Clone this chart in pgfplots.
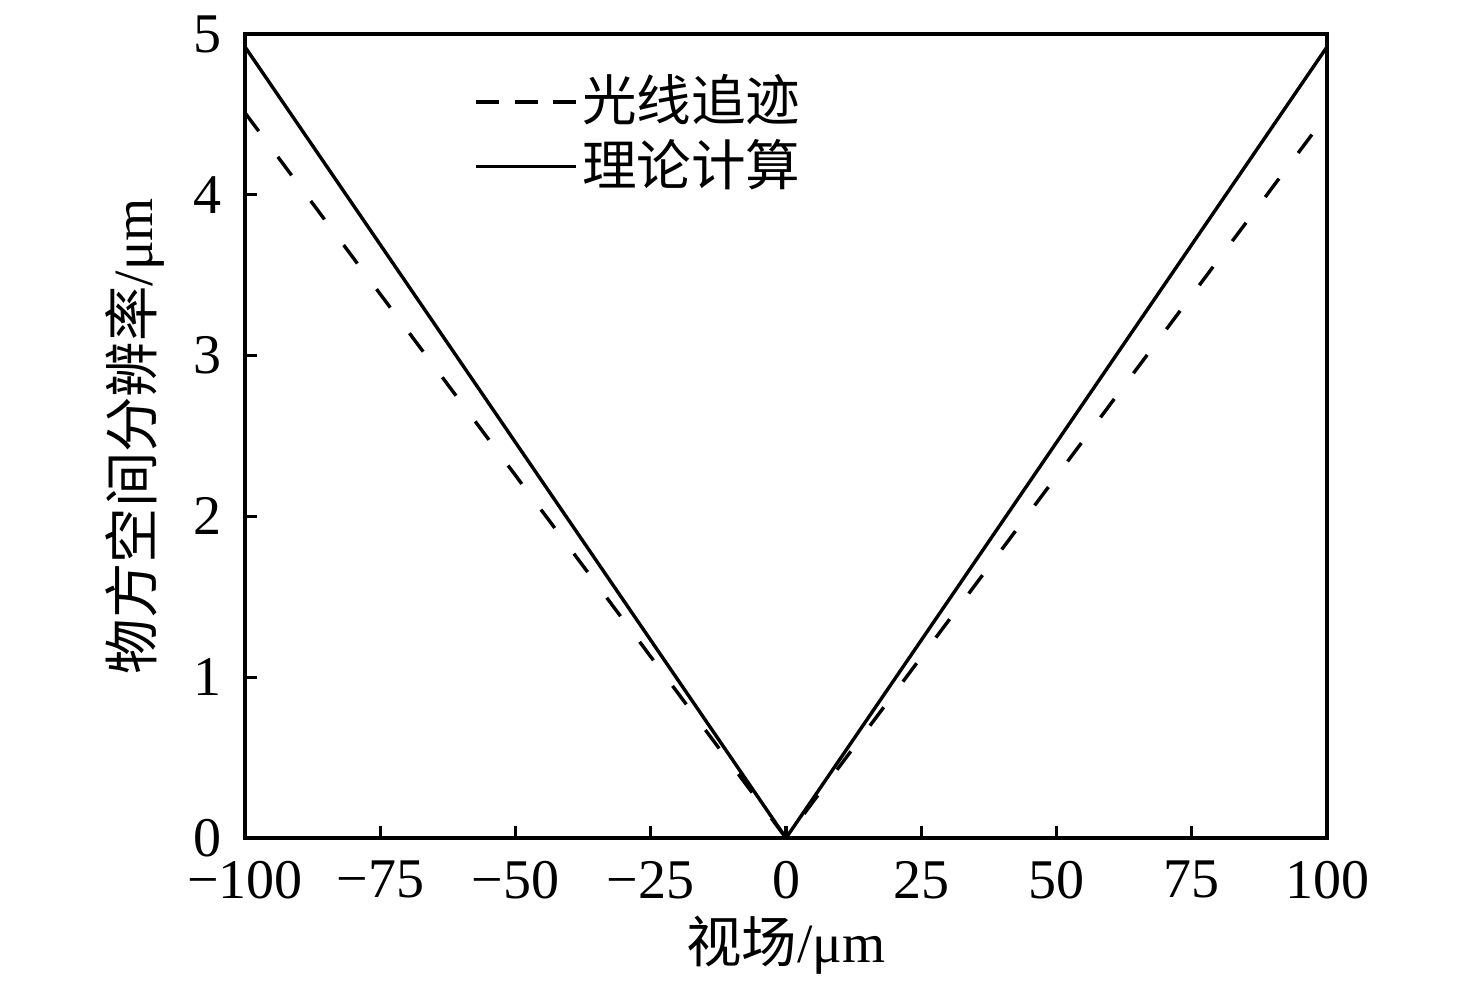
\documentclass[border=0pt]{standalone}
\usepackage{fontspec}
\setmainfont{Liberation Serif}
\newfontfamily\cjk{Noto Sans CJK SC}
\usepackage{pgfplots}
\pgfplotsset{compat=1.18}
\begin{document}
\fontsize{28}{33}\selectfont
\begin{tikzpicture}
\begin{axis}[
  scale only axis,
  width=541pt, height=402pt,
  xmin=-100, xmax=100, ymin=0, ymax=5,
  xtick={-100,-75,-50,-25,0,25,50,75,100},
  xticklabels={−100,−75,−50,−25,0,25,50,75,100},
  ytick={0,1,2,3,4,5},
  yticklabels={0,1,2,3,4,5},
  xtick pos=bottom, ytick pos=left,
  tick align=inside,
  major tick length=6pt,
  axis line style={line width=1.7pt},
  every tick/.style={line width=1.6pt, black},
  ticklabel style={font=\fontsize{28}{33}\selectfont},
  xticklabel style={yshift=-2pt},
  yticklabel style={xshift=-2pt},
  xlabel={{\cjk 视场}/μm},
  ylabel={{\cjk 物方空间分辨率}/μm},
  label style={font=\fontsize{27.7}{33}\selectfont},
  xlabel style={at={(axis description cs:0.5,-0.1331)}, anchor=center},
  ylabel style={at={(axis description cs:-0.1017,0.5)}, anchor=center},
  legend style={draw=none, fill=none, at={(axis description cs:0.212,0.955)}, anchor=north west,
    font=\fontsize{27.3}{32}\selectfont, row sep=1pt, inner sep=0pt},
  legend cell align=left,
  legend image code/.code={\draw[#1] (0pt,0pt) -- (50pt,0pt);},
]
\addlegendimage{black, line width=1.7pt, dash pattern=on 11.5pt off 7.75pt}
\addlegendentry{\cjk 光线追迹}
\addlegendimage{black, line width=1.7pt}
\addlegendentry{\cjk 理论计算}
\addplot[black, line width=1.7pt, dash pattern=on 11.5pt off 16pt, forget plot] coordinates {(-100,4.51) (0,0) (100,4.5)};
\addplot[black, line width=1.7pt, forget plot] coordinates {(-100,4.92) (0,0) (100,4.92)};
\end{axis}
\pgfresetboundingbox
\path[use as bounding box] (-122.5pt,-74pt) rectangle (615.5pt,419pt);
\end{tikzpicture}
\end{document}
